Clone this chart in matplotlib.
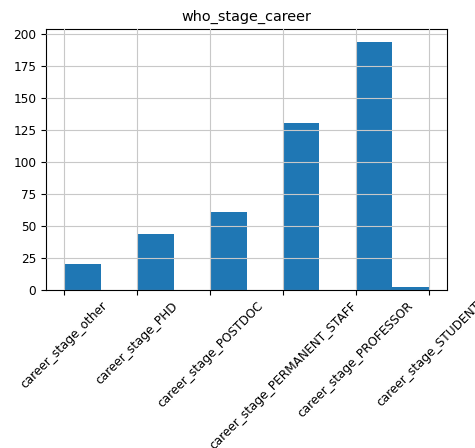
import matplotlib
matplotlib.use("Agg")
import matplotlib.pyplot as plt
import numpy as np

# career stage categories and how many responses fell in each
stages = ['career_stage_other', 'career_stage_PHD', 'career_stage_POSTDOC',
          'career_stage_PERMANENT_STAFF', 'career_stage_PROFESSOR', 'career_stage_STUDENT']
counts = [20, 44, 61, 130, 194, 2]

codes = np.arange(len(stages))

plt.rcParams['font.size'] = 8.7

fig = plt.figure(figsize=(4.75, 4.48), dpi=100)
ax = fig.add_axes([0.097, 0.353, 0.844, 0.582])

# same as a pandas .hist() on the coded column: 10 bins over 0..5
ax.hist(codes, bins=10, weights=counts, color='#1f77b4')
ax.grid(True, color='#c8c8c8')
ax.set_axisbelow(False)
ax.set_title('who_stage_career', fontsize=10.4)
ax.set_xticks(codes)
ax.set_xticklabels(stages, rotation=45)

fig.savefig('out.png', dpi=100)
